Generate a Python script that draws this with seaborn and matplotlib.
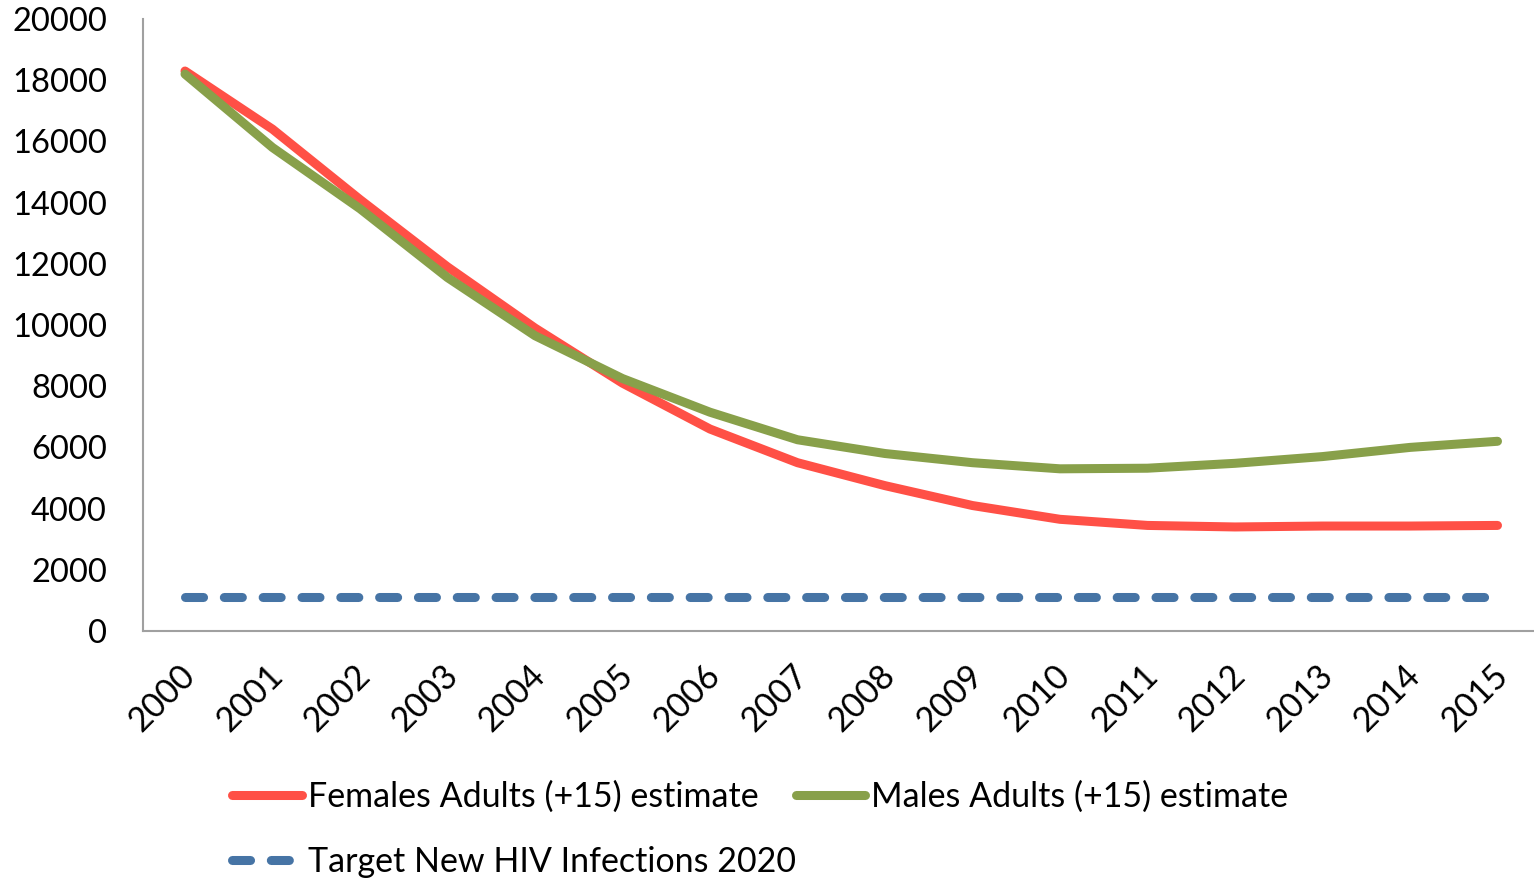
import matplotlib
matplotlib.use("Agg")
import matplotlib.pyplot as plt
import matplotlib.transforms as mtransforms
import seaborn as sns

years = list(range(2000, 2016))
females = [18300, 16400, 14100, 11900, 9900, 8100, 6600, 5500,
           4750, 4100, 3650, 3450, 3400, 3430, 3430, 3450]
males = [18200, 15800, 13800, 11550, 9650, 8250, 7150, 6250,
         5800, 5500, 5300, 5320, 5480, 5700, 6000, 6200]
target = [1110] * len(years)

labels = ["Females Adults (+15) estimate",
          "Males Adults (+15) estimate",
          "Target New HIV Infections 2020"]
colors = ["#FF5046", "#88A04A", "#4674A5"]

sns.set_theme(style="white")
plt.rcParams["font.family"] = ["Lato", "DejaVu Sans"]
plt.rcParams["text.color"] = "black"
plt.rcParams["xtick.color"] = "black"
plt.rcParams["ytick.color"] = "black"

fig = plt.figure(figsize=(15.34, 8.81), dpi=100)
ax = fig.add_axes([143 / 1534, 1 - 631 / 881, 1 - 143 / 1534, (631 - 19) / 881])

lw = 6.5
sns.lineplot(x=years, y=females, ax=ax, color=colors[0], linewidth=lw,
             label=labels[0])
sns.lineplot(x=years, y=males, ax=ax, color=colors[1], linewidth=lw,
             label=labels[1])
sns.lineplot(x=years, y=target, ax=ax, color=colors[2], linewidth=lw,
             label=labels[2])

lines = ax.get_lines()
for ln in lines:
    ln.set_solid_capstyle("round")
    ln.set_solid_joinstyle("round")
lines[2].set_dashes((2.0, 2.3))
lines[2].set_dash_capstyle("round")

fs = 24.5
ax.set_xlim(2000 - 0.48, 2000 + (1534 - 185) / 87.5)
ax.set_ylim(0, 20000)
ax.set_yticks(range(0, 20001, 2000))
ax.set_yticklabels([str(v) for v in range(0, 20001, 2000)], fontsize=23.5)
ax.set_xticks(years)
ax.set_xticklabels([str(y) for y in years], rotation=45, ha="right",
                   rotation_mode="anchor", fontsize=fs)
ax.tick_params(axis="x", pad=20, length=0)
ax.tick_params(axis="y", pad=26, length=0)
shift = mtransforms.ScaledTranslation(-6 / 100, 0, fig.dpi_scale_trans)
for lab in ax.get_xticklabels():
    lab.set_transform(lab.get_transform() + shift)

for side in ("top", "right"):
    ax.spines[side].set_visible(False)
for side in ("left", "bottom"):
    ax.spines[side].set_color("#A0A0A0")
    ax.spines[side].set_linewidth(1.5)

ax.legend_.remove()
handles, _ = ax.get_legend_handles_labels()
order = [0, 2, 1]
fig.legend([handles[i] for i in order], [labels[i] for i in order],
           ncol=2, loc="upper left", bbox_to_anchor=(232 / 1534, 1 - 781 / 881),
           frameon=False, fontsize=fs, handlelength=2.05,
           handletextpad=0.17, columnspacing=0.0, labelspacing=0.95,
           borderpad=0, borderaxespad=0)

fig.savefig("out.png", dpi=100)
